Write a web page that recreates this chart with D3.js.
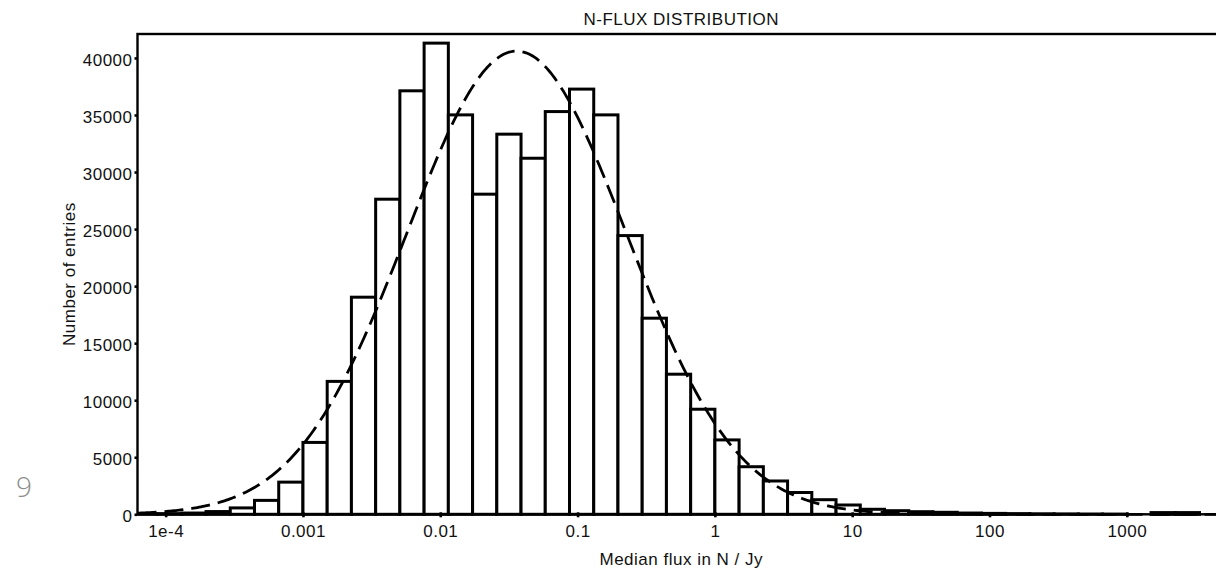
<!DOCTYPE html>
<html>
<head>
<meta charset="utf-8">
<script src="https://cdn.jsdelivr.net/npm/d3@7"></script>
<style>
  html, body { margin: 0; padding: 0; background: #fff; }
  svg { display: block; }
  text { font-family: "Liberation Sans", Arial, Helvetica, sans-serif; fill: #111; }
</style>
</head>
<body>
<svg id="chart" width="1216" height="569"></svg>
<script>
// ---- chart text and ticks ----
const titleText = "N-FLUX DISTRIBUTION";
const xLabelText = "Median flux in N / Jy";
const yLabelText = "Number of entries";
const pageNumber = "9";

const xTickValues = [1e-4, 0.001, 0.01, 0.1, 1, 10, 100, 1000];
const xTickLabels = ["1e-4", "0.001", "0.01", "0.1", "1", "10", "100", "1000"];
const yTickValues = [0, 5000, 10000, 15000, 20000, 25000, 30000, 35000, 40000];

// ---- histogram: log-spaced bins, 17 bins per 3 decades ----
const binsPerDecade = 17 / 3;
const firstBinEdgeLog = -3 - 7 / binsPerDecade;   // lower edge of the first bin (log10)
const binCounts = [
  30, 60, 110, 240, 560, 1220, 2820,
  6300, 11650, 19030, 27620, 37120, 41300, 35010, 28060, 33320, 31210,
  35300, 37270, 35010, 24430, 17190, 12280, 9210,
  6520, 4170, 2920, 1910, 1280, 815, 440, 316, 228, 175,
  110, 80, 60, 45, 35, 25, 20, 0, 150, 150
];

// ---- log-normal fit drawn as a dashed curve ----
const fitPeak = 40600;
const fitMeanLog = -1.444;
const fitSigmaLog = 0.80;

// ---- layout ----
const plot = { left: 137.5, right: 1225, top: 34, bottom: 514.3 };
const xDomainLog = [-4.205, 3.715];
const yMax = 42100;

const svg = d3.select("#chart");

const x = d3.scaleLog()
  .domain(xDomainLog.map(v => Math.pow(10, v)))
  .range([plot.left, plot.right]);

const y = d3.scaleLinear()
  .domain([0, yMax])
  .range([plot.bottom, plot.top]);

svg.append("defs").append("clipPath").attr("id", "plot-clip")
  .append("rect")
  .attr("x", plot.left).attr("y", plot.top - 2)
  .attr("width", plot.right - plot.left).attr("height", plot.bottom - plot.top + 4);

const bins = binCounts.map((c, i) => ({
  x0: Math.pow(10, firstBinEdgeLog + i / binsPerDecade),
  x1: Math.pow(10, firstBinEdgeLog + (i + 1) / binsPerDecade),
  count: c
}));

const g = svg.append("g").attr("clip-path", "url(#plot-clip)");

// bars
g.selectAll("rect.bar")
  .data(bins)
  .join("rect")
  .attr("class", "bar")
  .attr("x", d => x(d.x0))
  .attr("width", d => x(d.x1) - x(d.x0))
  .attr("y", d => y(d.count))
  .attr("height", d => y(0) - y(d.count))
  .attr("fill", "#fff")
  .attr("stroke", "#000")
  .attr("stroke-width", 3);

// fit curve
const curvePts = d3.range(0, 601).map(i => {
  const lg = xDomainLog[0] + (xDomainLog[1] - xDomainLog[0]) * i / 600;
  const z = (lg - fitMeanLog) / fitSigmaLog;
  return [Math.pow(10, lg), fitPeak * Math.exp(-0.5 * z * z)];
});

g.append("path")
  .datum(curvePts)
  .attr("fill", "none")
  .attr("stroke", "#000")
  .attr("stroke-width", 2.8)
  .attr("stroke-dasharray", "19,8")
  .attr("d", d3.line().x(d => x(d[0])).y(d => y(d[1])));

// frame
svg.append("rect")
  .attr("x", plot.left).attr("y", plot.top)
  .attr("width", plot.right - plot.left).attr("height", plot.bottom - plot.top)
  .attr("fill", "none")
  .attr("stroke", "#000")
  .attr("stroke-width", 2.4);

// y axis
const yAxis = svg.append("g")
  .attr("transform", `translate(${plot.left},0)`)
  .call(d3.axisLeft(y).tickValues(yTickValues).tickSize(3).tickPadding(2).tickFormat(d3.format("d")));
yAxis.select(".domain").remove();
yAxis.selectAll(".tick line").attr("stroke", "#000").attr("stroke-width", 2.6);
yAxis.selectAll(".tick text")
  .attr("dy", "0.42em")
  .style("font-size", "17px")
  .style("letter-spacing", "0.5px")
  .style("font-family", "'Liberation Sans', Arial, Helvetica, sans-serif")
  .attr("fill", "#111");

// x axis
const xAxis = svg.append("g")
  .attr("transform", `translate(0,${plot.bottom})`)
  .call(d3.axisBottom(x).tickValues(xTickValues).tickSize(3).tickPadding(8)
    .tickFormat((d, i) => xTickLabels[i]));
xAxis.select(".domain").remove();
xAxis.selectAll(".tick line").attr("stroke", "#000").attr("stroke-width", 2.6).attr("y1", -2);
xAxis.selectAll(".tick text")
  .style("font-size", "17px")
  .style("letter-spacing", "0.5px")
  .style("font-family", "'Liberation Sans', Arial, Helvetica, sans-serif")
  .attr("fill", "#111");

const cx = (plot.left + plot.right) / 2;

// title
svg.append("text")
  .attr("x", cx).attr("y", 25)
  .attr("text-anchor", "middle")
  .style("font-size", "17px")
  .style("letter-spacing", "0.5px")
  .text(titleText);

// x label
svg.append("text")
  .attr("x", cx).attr("y", 565)
  .attr("text-anchor", "middle")
  .style("font-size", "17px")
  .style("letter-spacing", "0.5px")
  .text(xLabelText);

// y label
svg.append("text")
  .attr("transform", `translate(75,${(plot.top + plot.bottom) / 2}) rotate(-90)`)
  .attr("text-anchor", "middle")
  .style("font-size", "17px")
  .style("letter-spacing", "0.5px")
  .text(yLabelText);

// page number
svg.append("text")
  .attr("x", 16).attr("y", 497)
  .style("font-family", "'Open Sans', 'Noto Sans', sans-serif")
  .style("font-size", "28px")
  .style("font-weight", 300)
  .style("fill", "#8c8c8c")
  .text(pageNumber);
</script>
</body>
</html>
